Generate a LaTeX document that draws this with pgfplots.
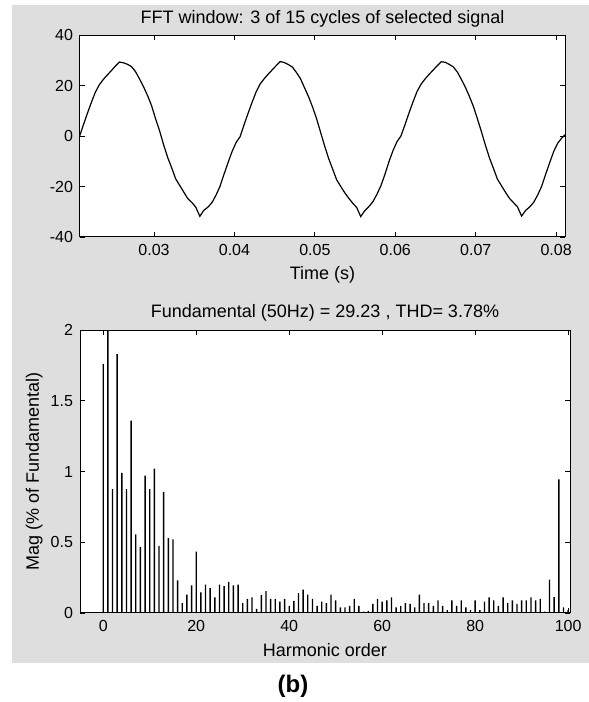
\documentclass[border=0pt]{standalone}
\usepackage{fontspec}
\setmainfont{Liberation Sans}
\usepackage{pgfplots}
\pgfplotsset{compat=1.18}
\definecolor{figgray}{RGB}{222,222,222}

\pgfplotsset{matlab/.style={
    scale only axis,
    anchor=south west,
    axis background/.style={fill=white},
    axis line style={line width=0.5pt},
    tick align=inside,
    major tick length=2.5pt,
    tick style={black, line width=0.4pt},
    tick label style={font=\fontsize{8}{9}\selectfont},
    label style={font=\fontsize{9}{10}\selectfont},
    every axis title/.style={font=\fontsize{9}{10}\selectfont, at={(0.5,1)}, anchor=base},
    xlabel style={at={(axis description cs:0.5,0)}, anchor=base, yshift=-21.5pt},
    scaled x ticks=false, scaled y ticks=false,
    /pgf/number format/assume math mode=true,
}}

\pgfplotstableread{
t v
0.0207 -0.5
0.0212 4.2
0.0217 8.8
0.0222 13.2
0.0227 17.3
0.0232 20.3
0.0237 22.4
0.0242 24.2
0.0247 25.9
0.0252 27.7
0.0257 29.3
0.0262 29.0
0.0267 28.4
0.0272 27.5
0.0277 25.5
0.0282 22.6
0.0287 19.5
0.0292 16.0
0.0297 12.0
0.0302 6.8
0.0307 2.0
0.0312 -3.5
0.0317 -8.5
0.0322 -12.6
0.0327 -17.0
0.0332 -19.6
0.0337 -22.2
0.0342 -24.8
0.0347 -26.3
0.0352 -28.2
0.0357 -31.8
0.0362 -29.4
0.0367 -28.2
0.0372 -26.4
0.0377 -23.5
0.0382 -20.0
0.0387 -15.2
0.0392 -10.6
0.0397 -6.2
0.0402 -2.6
0.0407 -0.3
0.0412 4.5
0.0417 9.0
0.0422 13.4
0.0427 17.5
0.0432 20.6
0.0437 22.7
0.0442 24.5
0.0447 26.2
0.0452 27.9
0.0457 29.5
0.0462 29.1
0.0467 28.3
0.0472 27.3
0.0477 25.2
0.0482 22.8
0.0487 19.2
0.0492 15.7
0.0497 11.6
0.0502 7.0
0.0507 1.6
0.0512 -3.8
0.0517 -8.8
0.0522 -13.0
0.0527 -17.3
0.0532 -19.9
0.0537 -22.4
0.0542 -24.6
0.0547 -26.6
0.0552 -28.3
0.0557 -31.9
0.0562 -29.6
0.0567 -28.0
0.0572 -26.1
0.0577 -23.2
0.0582 -19.8
0.0587 -15.3
0.0592 -10.3
0.0597 -5.9
0.0602 -2.3
0.0607 0.0
0.0612 4.4
0.0617 9.1
0.0622 13.5
0.0627 17.6
0.0632 20.5
0.0637 22.6
0.0642 24.4
0.0647 26.1
0.0652 27.8
0.0657 29.4
0.0662 29.2
0.0667 28.4
0.0672 27.4
0.0677 25.4
0.0682 22.5
0.0687 19.4
0.0692 15.8
0.0697 11.8
0.0702 6.9
0.0707 1.8
0.0712 -3.6
0.0717 -8.6
0.0722 -12.8
0.0727 -17.1
0.0732 -19.7
0.0737 -22.3
0.0742 -24.7
0.0747 -26.4
0.0752 -28.1
0.0757 -31.7
0.0762 -29.5
0.0767 -28.1
0.0772 -26.3
0.0777 -23.4
0.0782 -19.9
0.0787 -15.1
0.0792 -10.5
0.0797 -6.1
0.0802 -2.8
0.0807 -0.8
0.0811 0.5
}\signal

\pgfplotstableread{
h mag
0 1.76
1 100
2 0.875
3 1.83
4 0.99
5 0.875
6 1.36
7 0.555
8 0.466
9 0.97
10 0.875
11 1.02
12 0.475
13 0.856
14 0.53
15 0.52
16 0.23
17 0.07
18 0.13
19 0.195
20 0.433
21 0.146
22 0.20
23 0.176
24 0.11
25 0.20
26 0.19
27 0.22
28 0.195
29 0.20
30 0.07
31 0.10
32 0.11
33 0.03
34 0.127
35 0.155
36 0.10
37 0.10
38 0.08
39 0.10
40 0.05
41 0.085
42 0.14
43 0.165
44 0.13
45 0.10
46 0.05
47 0.08
48 0.07
49 0.13
50 0.09
51 0.04
52 0.04
53 0.05
54 0.10
55 0.05
56 0.01
57 0.015
58 0.065
59 0.10
60 0.08
61 0.09
62 0.11
63 0.04
64 0.05
65 0.07
66 0.065
67 0.04
68 0.13
69 0.07
70 0.07
71 0.05
72 0.09
73 0.05
74 0.02
75 0.09
76 0.05
77 0.09
78 0.04
79 0.02
80 0.09
81 0.02
82 0.08
83 0.11
84 0.09
85 0.05
86 0.11
87 0.07
88 0.09
89 0.065
90 0.09
91 0.09
92 0.11
93 0.09
94 0.10
95 0.01
96 0.235
97 0.113
98 0.945
99 0.04
100 0.02
}\spectrum

\begin{document}
\begin{tikzpicture}
\path[use as bounding box] (0,0) rectangle (294.5pt,351pt);
\fill[figgray] (6pt,19.5pt) rectangle (294.5pt,348.5pt);

% time-domain window
\begin{axis}[matlab,
    at={(40pt,232.5pt)},
    width=242.5pt, height=101pt,
    xmin=0.0208, xmax=0.0811,
    ymin=-40, ymax=40,
    xtick={0.03,0.04,0.05,0.06,0.07,0.08},
    xticklabels={0.03,0.04,0.05,0.06,0.07,0.08},
    ytick={-40,-20,0,20,40},
    title={FFT window: 3 of 15 cycles of selected signal},
    title style={yshift=5.9pt},
    xlabel={Time (s)},
]
\addplot[black, line width=0.6pt] table[x=t, y=v] {\signal};
\end{axis}

% harmonic spectrum
\begin{axis}[matlab,
    at={(40pt,44.5pt)},
    width=245pt, height=141.5pt,
    xmin=-5, xmax=100.4,
    ymin=0, ymax=2,
    xtick={0,20,40,60,80,100},
    ytick={0,0.5,1,1.5,2},
    title={Fundamental (50Hz) = 29.23 , THD= 3.78\%},
    title style={yshift=6.3pt},
    xlabel={Harmonic order},
    ylabel={Mag (\% of Fundamental)},
    ylabel style={at={(axis description cs:0,0.5)}, anchor=base, yshift=20.5pt},
]
\addplot[ybar, bar width=0.3, fill=black, draw=none] table[x=h, y=mag] {\spectrum};
\end{axis}

\node[font=\bfseries\fontsize{12}{14}\selectfont] at (146.5pt,8pt) {(b)};
\end{tikzpicture}
\end{document}
